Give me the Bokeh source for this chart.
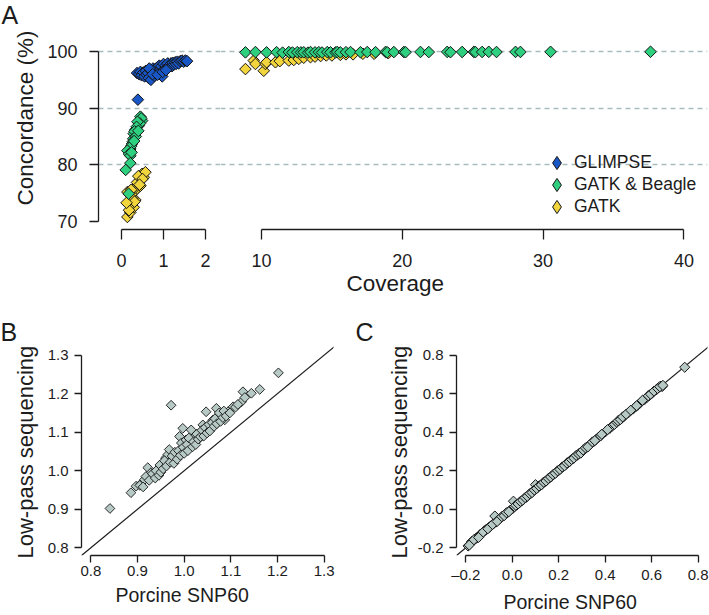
import math
from bokeh.plotting import figure
from bokeh.models import Range1d, FixedTicker, Legend, LegendItem, Slope, Grid, Title
from bokeh.layouts import column, row
from bokeh.embed import file_html
from bokeh.resources import INLINE

FONT = "Liberation Sans"
INK = "#1c1c1c"

# ---------------- data: panel A (coverage vs concordance) ----------------
glimpse_cov = [0.39, 0.37, 0.42, 0.45, 0.48, 0.52, 0.55, 0.58, 0.60, 0.63, 0.65, 0.68,
               0.70, 0.72, 0.75, 0.78, 0.80, 0.82, 0.85, 0.88, 0.90, 0.93, 0.95, 0.97,
               1.00, 1.02, 1.05, 1.08, 1.10, 1.12, 1.15, 1.18, 1.20, 1.22, 1.25, 1.28,
               1.30, 1.33, 1.36, 1.40, 1.44, 1.48, 1.52, 1.56, 0.66, 0.74, 0.86, 0.98, 1.06]
glimpse_conc = [91.5, 96.2, 96.0, 96.4, 95.8, 96.3, 95.6, 96.6, 95.9, 96.2, 95.3, 96.8,
                95.0, 96.5, 97.0, 95.7, 96.9, 96.1, 97.2, 96.4, 97.5, 96.8, 97.4, 95.6,
                97.8, 96.9, 97.5, 97.2, 97.9, 97.3, 97.6, 97.9, 97.4, 98.0, 97.7, 98.1,
                97.8, 98.2, 97.9, 98.3, 98.4, 98.2, 98.4, 98.3, 97.0, 96.0, 95.9, 96.4, 96.7]

beagle_lo_cov = [0.45, 0.49, 0.47, 0.41, 0.44, 0.38, 0.33, 0.36, 0.29, 0.31, 0.28, 0.34,
                 0.25, 0.27, 0.21, 0.23, 0.14, 0.18, 0.21, 0.24, 0.21, 0.10, 0.17, 0.30, 0.40]
beagle_lo_conc = [88.5, 87.8, 88.2, 86.9, 87.3, 87.6, 86.2, 86.7, 85.5, 85.9, 84.6, 85.0,
                  83.7, 84.1, 82.8, 83.3, 82.5, 81.9, 81.6, 82.2, 80.3, 79.1, 74.9, 84.2, 86.0]

gatk_lo_cov = [0.14, 0.21, 0.29, 0.25, 0.33, 0.21, 0.14, 0.29, 0.37, 0.41, 0.45, 0.53,
               0.49, 0.57, 0.33, 0.37, 0.45, 0.18, 0.26, 0.40, 0.50, 0.43, 0.31, 0.23, 0.12]
gatk_lo_conc = [70.8, 71.6, 72.5, 73.1, 73.8, 74.6, 75.2, 75.2, 75.8, 76.7, 77.2, 77.8,
                78.4, 78.7, 76.0, 76.9, 76.3, 72.0, 74.0, 78.0, 77.5, 76.5, 73.5, 75.6, 73.3]

beagle_hi_cov = [8.86, 9.57, 10.36, 11.07, 11.5, 11.94, 12.2, 12.54, 12.8, 13.0, 13.3,
                 13.48, 13.8, 14.07, 14.3, 14.67, 14.9, 15.26, 15.38, 15.6, 16.0, 16.32,
                 17.03, 17.51, 18.1, 18.81, 18.93, 19.40, 20.11, 20.23, 21.29, 21.88,
                 23.19, 23.42, 24.25, 25.08, 25.19, 25.67, 26.14, 26.69, 28.04, 28.39,
                 30.53, 37.63]
beagle_hi_conc = [99.85, 99.90, 99.85, 99.88, 99.80, 99.90, 99.82, 99.88, 99.84, 99.86,
                  99.80, 99.90, 99.85, 99.88, 99.82, 99.90, 99.86, 99.84, 99.92, 99.85,
                  99.88, 99.90, 99.87, 99.90, 99.88, 99.92, 99.86, 99.90, 99.91, 99.88,
                  99.92, 99.90, 99.93, 99.88, 99.92, 99.93, 99.90, 99.92, 99.94, 99.91,
                  99.93, 99.92, 99.94, 99.95]

gatk_hi_cov = [8.86, 9.45, 9.57, 10.16, 10.28, 10.36, 10.99, 11.3, 11.94, 12.29, 12.65,
               13.0, 13.48, 13.8, 14.2, 14.6, 15.0, 15.6, 16.0, 16.5, 17.2, 18.0, 19.0]
gatk_hi_conc = [96.9, 98.4, 97.8, 96.6, 97.8, 98.1, 98.1, 98.3, 98.4, 98.5, 98.7,
                98.9, 99.0, 99.1, 99.2, 99.3, 99.3, 99.4, 99.5, 99.5, 99.6, 99.6, 99.7]

a_yticks = [70, 80, 90, 100]
a_ytick_labels = ["70", "80", "90", "100"]
a_grid_values = [80, 90, 100]
a_lo_ticks = [0, 1, 2]
a_lo_tick_labels = ["0", "1", "2"]
a_hi_ticks = [10, 20, 30, 40]
a_hi_tick_labels = ["10", "20", "30", "40"]
a_series = ["GLIMPSE", "GATK & Beagle", "GATK"]

# ---------------- data: panel B ----------------
b_snp60 = [0.841, 0.886, 0.897, 0.908, 0.915, 0.922, 0.929, 0.936, 0.943, 0.951, 0.954,
           0.960, 0.965, 0.968, 0.972, 0.976, 0.983, 0.990, 0.997, 0.994, 1.004, 1.003,
           1.012, 1.015, 1.022, 1.029, 1.033, 1.040, 1.047, 1.051, 1.058, 1.062, 1.069,
           1.072, 1.080, 1.087, 1.094, 1.105, 1.123, 1.126, 1.144, 1.162, 1.202,
           0.905, 0.912, 0.918, 0.925, 0.932, 0.938, 0.940, 0.946, 0.948, 0.950, 0.955,
           0.958, 0.962, 0.970, 0.974, 0.978, 0.980, 0.985, 0.988, 0.992, 0.998, 1.000,
           1.006, 1.008, 1.010, 1.018, 1.020, 1.025, 1.027, 1.030, 1.035, 1.038, 1.042,
           1.045, 1.049, 1.053, 1.055, 1.060, 1.064, 1.066, 1.070, 1.075, 1.078, 1.083,
           1.085, 1.090, 1.098, 1.110, 1.115, 1.130]
b_lowpass = [0.902, 0.943, 0.960, 0.967, 0.977, 1.008, 0.995, 0.990, 0.999, 1.008, 1.020,
             1.033, 1.042, 1.055, 1.170, 1.029, 1.042, 1.089, 1.110, 1.072, 1.080, 1.055,
             1.063, 1.106, 1.089, 1.080, 1.098, 1.119, 1.153, 1.102, 1.110, 1.132, 1.162,
             1.140, 1.145, 1.132, 1.153, 1.166, 1.179, 1.205, 1.201, 1.211, 1.254,
             0.962, 0.958, 0.985, 0.975, 0.992, 0.981, 1.000, 0.988, 1.015, 0.996, 1.005,
             1.026, 1.012, 1.022, 1.038, 1.019, 1.048, 1.030, 1.052, 1.040, 1.061, 1.045,
             1.068, 1.052, 1.085, 1.062, 1.075, 1.068, 1.095, 1.082, 1.088, 1.105, 1.090,
             1.112, 1.098, 1.120, 1.103, 1.125, 1.115, 1.135, 1.122, 1.150, 1.128, 1.138,
             1.155, 1.142, 1.150, 1.165, 1.172, 1.190]
b_ticks = [0.8, 0.9, 1.0, 1.1, 1.2, 1.3]
b_tick_labels = ["0.8", "0.9", "1.0", "1.1", "1.2", "1.3"]

# ---------------- data: panel C ----------------
c_snp60 = [-0.19, -0.175, -0.17, -0.16, -0.155, -0.15, -0.14, -0.135, -0.13, -0.12, -0.115,
           -0.11, -0.10, -0.095, -0.09, -0.08, -0.075, -0.07, -0.06, -0.055, -0.05, -0.04,
           -0.03, -0.02, -0.01, 0.0, 0.005, 0.01, 0.02, 0.03, 0.04, 0.05, 0.06, 0.07, 0.08,
           0.09, 0.10, 0.10, 0.11, 0.12, 0.13, 0.14, 0.15, 0.16, 0.17, 0.18, 0.19, 0.20,
           0.21, 0.22, 0.23, 0.24, 0.25, 0.26, 0.27, 0.28, 0.29, 0.30, 0.31, 0.32, 0.33,
           0.34, 0.35, 0.36, 0.37, 0.38, 0.40, 0.42, 0.43, 0.44, 0.45, 0.46, 0.47, 0.48,
           0.50, 0.52, 0.53, 0.54, 0.55, 0.57, 0.58, 0.59, 0.60, 0.62, 0.63, 0.64, 0.645,
           0.742,
           -0.185, -0.165, -0.145, -0.125, -0.105, -0.085, -0.065, -0.045, -0.035, -0.025,
           -0.015, 0.015, 0.025, 0.035, 0.045, 0.055, 0.065, 0.075, 0.085, 0.095, 0.105,
           0.115, 0.125, 0.135, 0.145, 0.155, 0.165, 0.175, 0.185, 0.195, 0.205, 0.215,
           0.225, 0.235, 0.245, 0.255, 0.265, 0.275, 0.285, 0.295, 0.305, 0.315, 0.325,
           0.345, 0.355, 0.385, 0.41, 0.455, 0.465, 0.475, 0.49, 0.51, 0.535, 0.56, 0.585,
           0.595, 0.61, 0.625, 0.635, 0.648]
c_lowpass = [-0.19, -0.168, -0.165, -0.155, -0.15, -0.146, -0.133, -0.13, -0.124, -0.112,
             -0.108, -0.104, -0.094, -0.09, -0.084, -0.074, -0.035, -0.066, -0.055, -0.05,
             -0.046, -0.035, -0.026, -0.016, -0.006, 0.002, 0.042, 0.014, 0.023, 0.033,
             0.043, 0.053, 0.062, 0.074, 0.083, 0.094, 0.104, 0.128, 0.114, 0.124, 0.133,
             0.143, 0.152, 0.163, 0.172, 0.183, 0.193, 0.202, 0.213, 0.222, 0.232, 0.243,
             0.252, 0.262, 0.272, 0.281, 0.292, 0.302, 0.311, 0.322, 0.331, 0.342, 0.351,
             0.362, 0.372, 0.381, 0.402, 0.421, 0.432, 0.441, 0.452, 0.463, 0.471, 0.482,
             0.502, 0.521, 0.532, 0.541, 0.552, 0.571, 0.582, 0.592, 0.601, 0.621, 0.632,
             0.64, 0.638, 0.738,
             -0.186, -0.158, -0.146, -0.118, -0.101, -0.079, -0.063, -0.038, -0.033, -0.018,
             -0.013, 0.021, 0.028, 0.041, 0.048, 0.061, 0.068, 0.081, 0.087, 0.1, 0.108,
             0.121, 0.127, 0.141, 0.147, 0.16, 0.168, 0.18, 0.187, 0.2, 0.207, 0.22, 0.226,
             0.24, 0.247, 0.259, 0.266, 0.28, 0.287, 0.292, 0.308, 0.319, 0.324, 0.35,
             0.357, 0.39, 0.414, 0.46, 0.466, 0.48, 0.494, 0.515, 0.538, 0.566, 0.59, 0.598,
             0.614, 0.628, 0.637, 0.644]
c_ticks = [-0.2, 0.0, 0.2, 0.4, 0.6, 0.8]
c_xtick_labels = ["\u20130.2", "0.0", "0.2", "0.4", "0.6", "0.8"]
c_ytick_labels = ["-0.2", "0.0", "0.2", "0.4", "0.6", "0.8"]

# ---------------- styles ----------------
BLUE = "#1a57c6"
GREEN = "#2fcf80"
YELLOW = "#f2d53c"
GREY = "#b7c9c4"
GRID = "#a9bcbc"


def style_axis(ax, size, standoff, tick_out, ticks, labels, bounds):
    ax.ticker = FixedTicker(ticks=ticks)
    ax.major_label_overrides = dict(zip(ticks, labels))
    ax.bounds = bounds
    ax.axis_line_color = INK
    ax.axis_line_width = 1.3
    ax.major_tick_line_color = INK
    ax.major_tick_line_width = 1.3
    ax.major_tick_out = tick_out
    ax.major_tick_in = 0
    ax.minor_tick_line_color = None
    ax.major_label_text_font = FONT
    ax.major_label_text_font_size = size
    ax.major_label_text_color = INK
    ax.major_label_standoff = standoff


def base_fig(width, height, xr, yr, left, right, top, bottom, yaxis=True):
    p = figure(width=width, height=height, x_range=xr, y_range=yr,
               output_backend="svg", toolbar_location=None,
               y_axis_location="left" if yaxis else None,
               min_border_left=left, min_border_right=right,
               min_border_top=top, min_border_bottom=bottom)
    p.outline_line_color = None
    p.background_fill_color = "white"
    p.border_fill_color = "white"
    p.xgrid.visible = False
    p.ygrid.visible = False
    return p


def set_letter(p, text, offset, valign, standoff=0):
    t = p.title
    t.text = text
    t.text_font = FONT
    t.text_font_size = "25px"
    t.text_font_style = "normal"
    t.text_color = INK
    t.align = "left"
    t.offset = offset
    t.vertical_align = valign
    t.standoff = standoff


def add_title(p, side, text, size, align, offset, standoff, valign="middle"):
    p.add_layout(Title(text=text, text_font=FONT, text_font_size=size,
                       text_font_style="normal", text_color=INK, align=align,
                       offset=offset, standoff=standoff, vertical_align=valign), side)


def diamonds(p, xs, ys, color, size, lw=1.0):
    return p.scatter(xs, ys, marker="square", angle=math.pi / 4, size=size,
                     fill_color=color, line_color="#151515", line_width=lw)


# ---------------- panel A (broken x axis: two linked panels) ----------------
a_y = Range1d(68.588, 103.706)
a1_x = Range1d(-0.5476, 2.357)
a2_x = Range1d(7.088, 41.676)

a1 = base_fig(220, 310, a1_x, a_y, 98, 0, 30, 81)
a2 = base_fig(489, 310, a2_x, a_y, 0, 2, 30, 81, yaxis=False)

for p in (a1, a2):
    p.add_layout(Grid(dimension=1, ticker=FixedTicker(ticks=a_grid_values),
                      grid_line_color=GRID, grid_line_dash="5 4", grid_line_width=1.3))

style_axis(a1.yaxis[0], "18px", 12, 9, a_yticks, a_ytick_labels, (70, 100))
style_axis(a1.xaxis[0], "18px", 14, 10, a_lo_ticks, a_lo_tick_labels, (0, 2))
style_axis(a2.xaxis[0], "18px", 14, 10, a_hi_ticks, a_hi_tick_labels, (10, 40))

diamonds(a1, gatk_lo_cov, gatk_lo_conc, YELLOW, 8.2)
diamonds(a1, beagle_lo_cov, beagle_lo_conc, GREEN, 8.2)
diamonds(a1, glimpse_cov, glimpse_conc, BLUE, 8.2)
diamonds(a2, gatk_hi_cov, gatk_hi_conc, YELLOW, 8.2)
diamonds(a2, beagle_hi_cov, beagle_hi_conc, GREEN, 8.2)

# legend keys: the low-coverage series drawn (off-range, so hidden) in the right panel
leg_sources = [(glimpse_cov, glimpse_conc, BLUE),
               (beagle_lo_cov, beagle_lo_conc, GREEN),
               (gatk_lo_cov, gatk_lo_conc, YELLOW)]
leg_y_offsets = [50, 28, 6]
for name, (xs, ys, col), yoff in zip(a_series, leg_sources, leg_y_offsets):
    r = a2.scatter(xs, ys, marker="diamond", size=14, fill_color=col,
                   line_color="#151515", line_width=1.0)
    lg = Legend(items=[LegendItem(label=name, renderers=[r])], location=(319, yoff),
                glyph_width=35, glyph_height=33, label_standoff=0, spacing=0,
                padding=0, margin=0, border_line_color=None, background_fill_alpha=0,
                label_text_font=FONT, label_text_font_size="17.5px",
                label_text_color=INK, label_height=20)
    a2.add_layout(lg, "center")

set_letter(a1, "A", -97, "top")
add_title(a1, "left", "Concordance (%)", "22.5px", "left", 24, 11)
add_title(a2, "below", "Coverage", "22.5px", "left", 126, 0)

# ---------------- panel B ----------------
b_x = Range1d(0.78, 1.32)
b_y = Range1d(0.78, 1.325)
pb = base_fig(345, 305, b_x, b_y, 81, 12, 35, 58)
style_axis(pb.yaxis[0], "15px", 6, 7, b_ticks, b_tick_labels, (0.8, 1.3))
style_axis(pb.xaxis[0], "15px", 3, 7, b_ticks, b_tick_labels, (0.8, 1.3))
pb.add_layout(Slope(gradient=1, y_intercept=0, line_color=INK, line_width=1.2, level="underlay"))
diamonds(pb, b_snp60, b_lowpass, GREY, 6.9, lw=0.9)
set_letter(pb, "B", -81, "bottom")
add_title(pb, "left", "Low-pass sequencing", "22px", "left", -3, 11)
add_title(pb, "below", "Porcine SNP60", "19.5px", "left", 34, 6, valign="bottom")

# ---------------- panel C ----------------
c_x = Range1d(-0.24, 0.84)
c_y = Range1d(-0.24, 0.851)
pc = base_fig(364, 305, c_x, c_y, 111, 2, 35, 58)
style_axis(pc.yaxis[0], "15px", 6, 7, c_ticks, c_ytick_labels, (-0.2, 0.8))
style_axis(pc.xaxis[0], "15px", 3, 7, c_ticks, c_xtick_labels, (-0.2, 0.8))
pc.add_layout(Slope(gradient=1, y_intercept=0, line_color=INK, line_width=1.2, level="underlay"))
diamonds(pc, c_snp60, c_lowpass, GREY, 7.2, lw=1.0)
set_letter(pc, "C", -101, "bottom")
add_title(pc, "left", "Low-pass sequencing", "22px", "left", -3, 3)
add_title(pc, "below", "Porcine SNP60", "19.5px", "left", 47, 6, valign="bottom")

layout = column(row(a1, a2), row(pb, pc))
open("out.html", "w").write(file_html(layout, INLINE))
